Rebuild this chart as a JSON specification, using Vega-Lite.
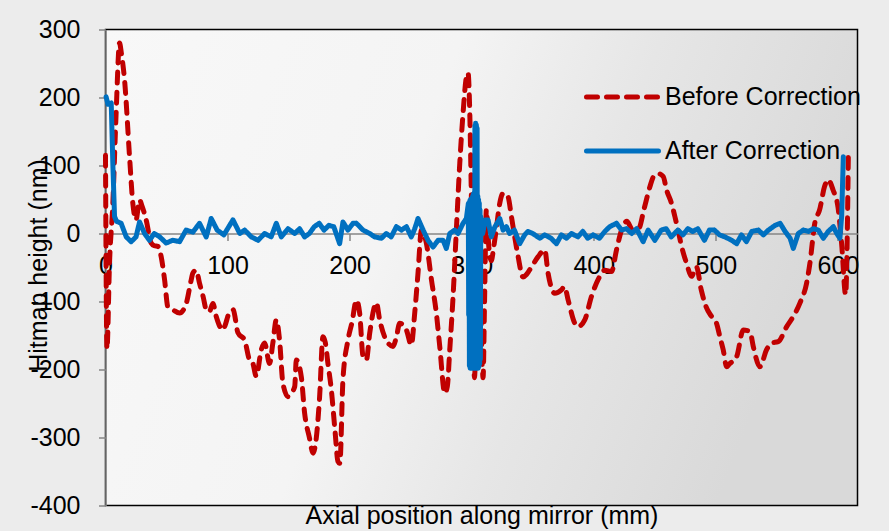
{
  "$schema": "https://vega.github.io/schema/vega-lite/v6.json",
  "width": 752,
  "height": 476,
  "autosize": {"type": "none"},
  "padding": {"left": 105.5, "top": 29.5, "right": 31.5, "bottom": 25.5},
  "background": "#ececec",
  "config": {
    "font": "Liberation Sans",
    "locale": {"number": {"decimal": ".", "thousands": ",", "grouping": [3], "currency": ["$", ""], "minus": "-"}},
    "view": {
      "stroke": "#000000",
      "strokeWidth": 1.5,
      "fill": {
        "gradient": "linear", "x1": 0, "y1": 0, "x2": 1, "y2": 0.25,
        "stops": [
          {"offset": 0, "color": "#f8f8f8"},
          {"offset": 0.45, "color": "#f4f4f4"},
          {"offset": 0.7, "color": "#e6e6e6"},
          {"offset": 1, "color": "#d9d9d9"}
        ]
      }
    },
    "legend": {
      "title": null,
      "orient": "none",
      "legendX": 534.5,
      "legendY": 55,
      "labelFontSize": 25,
      "labelColor": "#000000",
      "labelLimit": 400,
      "labelOffset": 0,
      "symbolType": "M-13.2,0H1.2",
      "symbolSize": 100,
      "symbolStrokeWidth": 5,
      "rowPadding": 28
    }
  },
  "data": {
    "values": [
      {"series": "Before Correction", "x": 0, "y": 115},
      {"series": "Before Correction", "x": 1.2, "y": -170},
      {"series": "Before Correction", "x": 3.3, "y": -43},
      {"series": "Before Correction", "x": 6, "y": 44},
      {"series": "Before Correction", "x": 8.7, "y": 177},
      {"series": "Before Correction", "x": 11.5, "y": 280},
      {"series": "Before Correction", "x": 13, "y": 265},
      {"series": "Before Correction", "x": 15.6, "y": 226},
      {"series": "Before Correction", "x": 19.7, "y": 113},
      {"series": "Before Correction", "x": 22.4, "y": 44},
      {"series": "Before Correction", "x": 25, "y": 20},
      {"series": "Before Correction", "x": 27.9, "y": 49},
      {"series": "Before Correction", "x": 30, "y": 40},
      {"series": "Before Correction", "x": 33.3, "y": 20},
      {"series": "Before Correction", "x": 37.4, "y": -14},
      {"series": "Before Correction", "x": 40, "y": -18},
      {"series": "Before Correction", "x": 42.9, "y": -19},
      {"series": "Before Correction", "x": 45.6, "y": -34},
      {"series": "Before Correction", "x": 48.4, "y": -68},
      {"series": "Before Correction", "x": 51.1, "y": -108},
      {"series": "Before Correction", "x": 55, "y": -112},
      {"series": "Before Correction", "x": 60.7, "y": -117},
      {"series": "Before Correction", "x": 66.1, "y": -103},
      {"series": "Before Correction", "x": 70, "y": -70},
      {"series": "Before Correction", "x": 71.6, "y": -58},
      {"series": "Before Correction", "x": 74.3, "y": -54},
      {"series": "Before Correction", "x": 77, "y": -73},
      {"series": "Before Correction", "x": 80, "y": -93},
      {"series": "Before Correction", "x": 82.5, "y": -112},
      {"series": "Before Correction", "x": 85, "y": -115},
      {"series": "Before Correction", "x": 88, "y": -103},
      {"series": "Before Correction", "x": 90.7, "y": -122},
      {"series": "Before Correction", "x": 96.2, "y": -142},
      {"series": "Before Correction", "x": 98, "y": -135},
      {"series": "Before Correction", "x": 101, "y": -118},
      {"series": "Before Correction", "x": 104.5, "y": -112},
      {"series": "Before Correction", "x": 108.5, "y": -146},
      {"series": "Before Correction", "x": 114, "y": -157},
      {"series": "Before Correction", "x": 118, "y": -186},
      {"series": "Before Correction", "x": 120.5, "y": -190},
      {"series": "Before Correction", "x": 123.5, "y": -210},
      {"series": "Before Correction", "x": 127.6, "y": -171},
      {"series": "Before Correction", "x": 130.3, "y": -161},
      {"series": "Before Correction", "x": 134.4, "y": -191},
      {"series": "Before Correction", "x": 137.1, "y": -161},
      {"series": "Before Correction", "x": 139.9, "y": -127},
      {"series": "Before Correction", "x": 142.6, "y": -157},
      {"series": "Before Correction", "x": 145.3, "y": -220},
      {"series": "Before Correction", "x": 149.5, "y": -240},
      {"series": "Before Correction", "x": 152, "y": -235},
      {"series": "Before Correction", "x": 155, "y": -225},
      {"series": "Before Correction", "x": 156.3, "y": -186},
      {"series": "Before Correction", "x": 160.4, "y": -211},
      {"series": "Before Correction", "x": 163.1, "y": -264},
      {"series": "Before Correction", "x": 167, "y": -300},
      {"series": "Before Correction", "x": 170, "y": -323},
      {"series": "Before Correction", "x": 172, "y": -310},
      {"series": "Before Correction", "x": 175.4, "y": -240},
      {"series": "Before Correction", "x": 178.1, "y": -152},
      {"series": "Before Correction", "x": 180, "y": -160},
      {"series": "Before Correction", "x": 182.2, "y": -191},
      {"series": "Before Correction", "x": 185, "y": -230},
      {"series": "Before Correction", "x": 188, "y": -290},
      {"series": "Before Correction", "x": 190.4, "y": -335},
      {"series": "Before Correction", "x": 192, "y": -338},
      {"series": "Before Correction", "x": 194.5, "y": -215},
      {"series": "Before Correction", "x": 198.6, "y": -157},
      {"series": "Before Correction", "x": 202, "y": -130},
      {"series": "Before Correction", "x": 205.5, "y": -98},
      {"series": "Before Correction", "x": 208.2, "y": -117},
      {"series": "Before Correction", "x": 211, "y": -181},
      {"series": "Before Correction", "x": 213.7, "y": -186},
      {"series": "Before Correction", "x": 216.4, "y": -147},
      {"series": "Before Correction", "x": 221.9, "y": -102},
      {"series": "Before Correction", "x": 224.6, "y": -127},
      {"series": "Before Correction", "x": 230, "y": -157},
      {"series": "Before Correction", "x": 235.5, "y": -166},
      {"series": "Before Correction", "x": 238.3, "y": -152},
      {"series": "Before Correction", "x": 241, "y": -132},
      {"series": "Before Correction", "x": 246.5, "y": -142},
      {"series": "Before Correction", "x": 250.5, "y": -164},
      {"series": "Before Correction", "x": 253.3, "y": -117},
      {"series": "Before Correction", "x": 256, "y": -58},
      {"series": "Before Correction", "x": 258.8, "y": 5},
      {"series": "Before Correction", "x": 262.8, "y": -14},
      {"series": "Before Correction", "x": 267, "y": -68},
      {"series": "Before Correction", "x": 271, "y": -117},
      {"series": "Before Correction", "x": 273.8, "y": -166},
      {"series": "Before Correction", "x": 277.9, "y": -235},
      {"series": "Before Correction", "x": 280, "y": -225},
      {"series": "Before Correction", "x": 282, "y": -171},
      {"series": "Before Correction", "x": 284.7, "y": -93},
      {"series": "Before Correction", "x": 287.4, "y": 5},
      {"series": "Before Correction", "x": 290.2, "y": 103},
      {"series": "Before Correction", "x": 292.9, "y": 177},
      {"series": "Before Correction", "x": 295.7, "y": 231},
      {"series": "Before Correction", "x": 297, "y": 236},
      {"series": "Before Correction", "x": 298.4, "y": 177},
      {"series": "Before Correction", "x": 299.7, "y": 54},
      {"series": "Before Correction", "x": 301, "y": -93},
      {"series": "Before Correction", "x": 302.2, "y": -212},
      {"series": "Before Correction", "x": 304, "y": -120},
      {"series": "Before Correction", "x": 306, "y": -20},
      {"series": "Before Correction", "x": 307.5, "y": -120},
      {"series": "Before Correction", "x": 309.3, "y": -212},
      {"series": "Before Correction", "x": 310.5, "y": -100},
      {"series": "Before Correction", "x": 312, "y": 35},
      {"series": "Before Correction", "x": 314, "y": -20},
      {"series": "Before Correction", "x": 316, "y": -40},
      {"series": "Before Correction", "x": 318, "y": -20},
      {"series": "Before Correction", "x": 320, "y": 5},
      {"series": "Before Correction", "x": 323, "y": 45},
      {"series": "Before Correction", "x": 325.7, "y": 59},
      {"series": "Before Correction", "x": 328, "y": 58},
      {"series": "Before Correction", "x": 329.8, "y": 54},
      {"series": "Before Correction", "x": 332.5, "y": 25},
      {"series": "Before Correction", "x": 335.2, "y": -5},
      {"series": "Before Correction", "x": 338, "y": -34},
      {"series": "Before Correction", "x": 342, "y": -64},
      {"series": "Before Correction", "x": 345, "y": -60},
      {"series": "Before Correction", "x": 349, "y": -49},
      {"series": "Before Correction", "x": 354.4, "y": -34},
      {"series": "Before Correction", "x": 359.8, "y": -24},
      {"series": "Before Correction", "x": 362.5, "y": -58},
      {"series": "Before Correction", "x": 368, "y": -88},
      {"series": "Before Correction", "x": 373.5, "y": -83},
      {"series": "Before Correction", "x": 376, "y": -78},
      {"series": "Before Correction", "x": 379, "y": -98},
      {"series": "Before Correction", "x": 384.4, "y": -132},
      {"series": "Before Correction", "x": 387, "y": -137},
      {"series": "Before Correction", "x": 392.6, "y": -127},
      {"series": "Before Correction", "x": 398, "y": -93},
      {"series": "Before Correction", "x": 403.5, "y": -68},
      {"series": "Before Correction", "x": 409, "y": -54},
      {"series": "Before Correction", "x": 414.5, "y": -56},
      {"series": "Before Correction", "x": 418.6, "y": -24},
      {"series": "Before Correction", "x": 422.7, "y": 5},
      {"series": "Before Correction", "x": 427, "y": 18},
      {"series": "Before Correction", "x": 432, "y": 5},
      {"series": "Before Correction", "x": 437, "y": 8},
      {"series": "Before Correction", "x": 441, "y": 35},
      {"series": "Before Correction", "x": 446, "y": 69},
      {"series": "Before Correction", "x": 449, "y": 84},
      {"series": "Before Correction", "x": 452.7, "y": 88},
      {"series": "Before Correction", "x": 456.8, "y": 84},
      {"series": "Before Correction", "x": 459.6, "y": 64},
      {"series": "Before Correction", "x": 463.7, "y": 44},
      {"series": "Before Correction", "x": 466.4, "y": 25},
      {"series": "Before Correction", "x": 469, "y": 5},
      {"series": "Before Correction", "x": 471.9, "y": -19},
      {"series": "Before Correction", "x": 476, "y": -44},
      {"series": "Before Correction", "x": 480, "y": -63},
      {"series": "Before Correction", "x": 484, "y": -49},
      {"series": "Before Correction", "x": 488, "y": -83},
      {"series": "Before Correction", "x": 492, "y": -108},
      {"series": "Before Correction", "x": 496.5, "y": -122},
      {"series": "Before Correction", "x": 500.5, "y": -132},
      {"series": "Before Correction", "x": 503.3, "y": -152},
      {"series": "Before Correction", "x": 506, "y": -171},
      {"series": "Before Correction", "x": 508.8, "y": -196},
      {"series": "Before Correction", "x": 511, "y": -192},
      {"series": "Before Correction", "x": 517, "y": -181},
      {"series": "Before Correction", "x": 522.4, "y": -142},
      {"series": "Before Correction", "x": 527.9, "y": -144},
      {"series": "Before Correction", "x": 530.6, "y": -166},
      {"series": "Before Correction", "x": 536, "y": -196},
      {"series": "Before Correction", "x": 541.5, "y": -171},
      {"series": "Before Correction", "x": 545.6, "y": -161},
      {"series": "Before Correction", "x": 551, "y": -159},
      {"series": "Before Correction", "x": 558, "y": -137},
      {"series": "Before Correction", "x": 563.4, "y": -122},
      {"series": "Before Correction", "x": 568.9, "y": -102},
      {"series": "Before Correction", "x": 574.3, "y": -73},
      {"series": "Before Correction", "x": 577, "y": -44},
      {"series": "Before Correction", "x": 581, "y": 15},
      {"series": "Before Correction", "x": 585, "y": 35},
      {"series": "Before Correction", "x": 589, "y": 69},
      {"series": "Before Correction", "x": 592, "y": 79},
      {"series": "Before Correction", "x": 596, "y": 64},
      {"series": "Before Correction", "x": 600, "y": 39},
      {"series": "Before Correction", "x": 603, "y": -15},
      {"series": "Before Correction", "x": 606.3, "y": -90},
      {"series": "Before Correction", "x": 608.5, "y": 113},

      {"series": "After Correction", "x": 0.5, "y": 201},
      {"series": "After Correction", "x": 2, "y": 190},
      {"series": "After Correction", "x": 4.7, "y": 192},
      {"series": "After Correction", "x": 6, "y": 103},
      {"series": "After Correction", "x": 7.4, "y": 25},
      {"series": "After Correction", "x": 9, "y": 18},
      {"series": "After Correction", "x": 12.8, "y": 15},
      {"series": "After Correction", "x": 17, "y": -5},
      {"series": "After Correction", "x": 21, "y": -12},
      {"series": "After Correction", "x": 25, "y": -5},
      {"series": "After Correction", "x": 27.9, "y": 17},
      {"series": "After Correction", "x": 32, "y": 0},
      {"series": "After Correction", "x": 36, "y": -10},
      {"series": "After Correction", "x": 40, "y": 0},
      {"series": "After Correction", "x": 44.4, "y": -5},
      {"series": "After Correction", "x": 49.7, "y": -14},
      {"series": "After Correction", "x": 55, "y": -10},
      {"series": "After Correction", "x": 60.7, "y": -12},
      {"series": "After Correction", "x": 66, "y": 5},
      {"series": "After Correction", "x": 71.6, "y": 2},
      {"series": "After Correction", "x": 77, "y": 15},
      {"series": "After Correction", "x": 82.5, "y": -5},
      {"series": "After Correction", "x": 86.6, "y": 22},
      {"series": "After Correction", "x": 91.5, "y": 5},
      {"series": "After Correction", "x": 97, "y": -2},
      {"series": "After Correction", "x": 101, "y": 10},
      {"series": "After Correction", "x": 104.4, "y": 20},
      {"series": "After Correction", "x": 110, "y": 0},
      {"series": "After Correction", "x": 114, "y": 5},
      {"series": "After Correction", "x": 119.5, "y": -5},
      {"series": "After Correction", "x": 125, "y": -10},
      {"series": "After Correction", "x": 130.3, "y": 0},
      {"series": "After Correction", "x": 135.7, "y": -5},
      {"series": "After Correction", "x": 139.9, "y": 15},
      {"series": "After Correction", "x": 144, "y": -5},
      {"series": "After Correction", "x": 149.5, "y": 7},
      {"series": "After Correction", "x": 155, "y": 0},
      {"series": "After Correction", "x": 159, "y": 7},
      {"series": "After Correction", "x": 163.1, "y": -5},
      {"series": "After Correction", "x": 167, "y": 0},
      {"series": "After Correction", "x": 171, "y": 10},
      {"series": "After Correction", "x": 175, "y": 15},
      {"series": "After Correction", "x": 179, "y": 5},
      {"series": "After Correction", "x": 183, "y": 12},
      {"series": "After Correction", "x": 187, "y": 10},
      {"series": "After Correction", "x": 191.8, "y": -15},
      {"series": "After Correction", "x": 194.5, "y": 17},
      {"series": "After Correction", "x": 198.6, "y": 5},
      {"series": "After Correction", "x": 202.7, "y": 15},
      {"series": "After Correction", "x": 205.5, "y": 15},
      {"series": "After Correction", "x": 211, "y": 5},
      {"series": "After Correction", "x": 216.4, "y": 0},
      {"series": "After Correction", "x": 220.5, "y": -5},
      {"series": "After Correction", "x": 226, "y": -7},
      {"series": "After Correction", "x": 230, "y": 0},
      {"series": "After Correction", "x": 234, "y": -5},
      {"series": "After Correction", "x": 238.3, "y": 10},
      {"series": "After Correction", "x": 242.4, "y": 5},
      {"series": "After Correction", "x": 246.5, "y": 10},
      {"series": "After Correction", "x": 250.5, "y": -5},
      {"series": "After Correction", "x": 253.3, "y": 7},
      {"series": "After Correction", "x": 256, "y": 22},
      {"series": "After Correction", "x": 260.2, "y": 5},
      {"series": "After Correction", "x": 264.2, "y": -10},
      {"series": "After Correction", "x": 268.3, "y": -20},
      {"series": "After Correction", "x": 272.4, "y": -10},
      {"series": "After Correction", "x": 276.5, "y": -10},
      {"series": "After Correction", "x": 279.2, "y": -22},
      {"series": "After Correction", "x": 282, "y": 0},
      {"series": "After Correction", "x": 286, "y": 5},
      {"series": "After Correction", "x": 288.8, "y": 0},
      {"series": "After Correction", "x": 292.9, "y": 15},
      {"series": "After Correction", "x": 295.6, "y": 22},
      {"series": "After Correction", "x": 297.2, "y": 44},
      {"series": "After Correction", "x": 297.5, "y": -120},
      {"series": "After Correction", "x": 297.8, "y": 45},
      {"series": "After Correction", "x": 298.1, "y": -195},
      {"series": "After Correction", "x": 298.4, "y": 48},
      {"series": "After Correction", "x": 298.7, "y": -198},
      {"series": "After Correction", "x": 299.0, "y": 50},
      {"series": "After Correction", "x": 299.3, "y": -198},
      {"series": "After Correction", "x": 299.6, "y": 50},
      {"series": "After Correction", "x": 299.9, "y": -198},
      {"series": "After Correction", "x": 300.2, "y": 52},
      {"series": "After Correction", "x": 300.5, "y": -198},
      {"series": "After Correction", "x": 300.8, "y": 55},
      {"series": "After Correction", "x": 301.1, "y": -198},
      {"series": "After Correction", "x": 301.4, "y": 58},
      {"series": "After Correction", "x": 301.7, "y": -198},
      {"series": "After Correction", "x": 302.0, "y": 60},
      {"series": "After Correction", "x": 302.3, "y": -198},
      {"series": "After Correction", "x": 302.6, "y": 158},
      {"series": "After Correction", "x": 302.9, "y": -198},
      {"series": "After Correction", "x": 303.2, "y": 162},
      {"series": "After Correction", "x": 303.5, "y": -198},
      {"series": "After Correction", "x": 303.8, "y": 160},
      {"series": "After Correction", "x": 304.1, "y": -198},
      {"series": "After Correction", "x": 304.4, "y": 155},
      {"series": "After Correction", "x": 304.7, "y": -198},
      {"series": "After Correction", "x": 305.0, "y": 55},
      {"series": "After Correction", "x": 305.3, "y": -198},
      {"series": "After Correction", "x": 305.6, "y": 50},
      {"series": "After Correction", "x": 305.9, "y": -196},
      {"series": "After Correction", "x": 306.2, "y": 45},
      {"series": "After Correction", "x": 306.5, "y": -192},
      {"series": "After Correction", "x": 306.8, "y": 35},
      {"series": "After Correction", "x": 307.1, "y": -185},
      {"series": "After Correction", "x": 307.4, "y": 25},
      {"series": "After Correction", "x": 309, "y": 0},
      {"series": "After Correction", "x": 311, "y": 20},
      {"series": "After Correction", "x": 313.4, "y": 20},
      {"series": "After Correction", "x": 316, "y": -5},
      {"series": "After Correction", "x": 319, "y": 10},
      {"series": "After Correction", "x": 323, "y": 22},
      {"series": "After Correction", "x": 325.7, "y": 5},
      {"series": "After Correction", "x": 328.4, "y": 10},
      {"series": "After Correction", "x": 331, "y": 0},
      {"series": "After Correction", "x": 335, "y": 5},
      {"series": "After Correction", "x": 339.3, "y": -15},
      {"series": "After Correction", "x": 343.4, "y": -2},
      {"series": "After Correction", "x": 346, "y": 3},
      {"series": "After Correction", "x": 350, "y": 0},
      {"series": "After Correction", "x": 355.7, "y": -7},
      {"series": "After Correction", "x": 359.8, "y": -2},
      {"series": "After Correction", "x": 365, "y": -7},
      {"series": "After Correction", "x": 369.4, "y": -15},
      {"series": "After Correction", "x": 373.5, "y": -2},
      {"series": "After Correction", "x": 377.6, "y": -7},
      {"series": "After Correction", "x": 381.7, "y": 0},
      {"series": "After Correction", "x": 387, "y": -5},
      {"series": "After Correction", "x": 391, "y": 3},
      {"series": "After Correction", "x": 395, "y": -7},
      {"series": "After Correction", "x": 399.4, "y": -2},
      {"series": "After Correction", "x": 404.6, "y": -7},
      {"series": "After Correction", "x": 409, "y": 3},
      {"series": "After Correction", "x": 413, "y": 10},
      {"series": "After Correction", "x": 418.6, "y": 15},
      {"series": "After Correction", "x": 422.7, "y": 5},
      {"series": "After Correction", "x": 426.8, "y": 7},
      {"series": "After Correction", "x": 431, "y": 0},
      {"series": "After Correction", "x": 435, "y": 7},
      {"series": "After Correction", "x": 440.4, "y": -12},
      {"series": "After Correction", "x": 444.5, "y": 5},
      {"series": "After Correction", "x": 450, "y": -10},
      {"series": "After Correction", "x": 455.2, "y": 5},
      {"series": "After Correction", "x": 459.3, "y": 7},
      {"series": "After Correction", "x": 463.4, "y": -5},
      {"series": "After Correction", "x": 468.9, "y": 5},
      {"series": "After Correction", "x": 473, "y": -2},
      {"series": "After Correction", "x": 477, "y": 7},
      {"series": "After Correction", "x": 481, "y": 3},
      {"series": "After Correction", "x": 485.2, "y": 7},
      {"series": "After Correction", "x": 490.6, "y": -10},
      {"series": "After Correction", "x": 494.7, "y": 5},
      {"series": "After Correction", "x": 498.8, "y": 5},
      {"series": "After Correction", "x": 503, "y": -2},
      {"series": "After Correction", "x": 507.4, "y": -5},
      {"series": "After Correction", "x": 513, "y": -10},
      {"series": "After Correction", "x": 517, "y": -15},
      {"series": "After Correction", "x": 521, "y": -2},
      {"series": "After Correction", "x": 525, "y": -12},
      {"series": "After Correction", "x": 529.4, "y": 3},
      {"series": "After Correction", "x": 534.8, "y": 5},
      {"series": "After Correction", "x": 538.9, "y": -2},
      {"series": "After Correction", "x": 543, "y": 5},
      {"series": "After Correction", "x": 548.5, "y": 12},
      {"series": "After Correction", "x": 552.6, "y": 15},
      {"series": "After Correction", "x": 556.7, "y": 3},
      {"series": "After Correction", "x": 560.8, "y": -7},
      {"series": "After Correction", "x": 563.4, "y": -22},
      {"series": "After Correction", "x": 567.5, "y": 0},
      {"series": "After Correction", "x": 571.6, "y": 5},
      {"series": "After Correction", "x": 575.7, "y": 3},
      {"series": "After Correction", "x": 579.8, "y": 7},
      {"series": "After Correction", "x": 583.9, "y": 5},
      {"series": "After Correction", "x": 588, "y": -7},
      {"series": "After Correction", "x": 592, "y": 3},
      {"series": "After Correction", "x": 596.2, "y": 10},
      {"series": "After Correction", "x": 599, "y": 0},
      {"series": "After Correction", "x": 601.6, "y": -7},
      {"series": "After Correction", "x": 603, "y": 25},
      {"series": "After Correction", "x": 604.4, "y": 113}
    ]
  },
  "encoding": {
    "x": {
      "field": "x", "type": "quantitative",
      "scale": {"domain": [0, 616], "nice": false, "zero": false},
      "axis": {
        "title": "Axial position along mirror (mm)",
        "values": [0, 100, 200, 300, 400, 500, 600],
        "format": "d",
        "offset": -272,
        "grid": false,
        "domainColor": "#868686", "domainWidth": 1.5,
        "tickColor": "#868686", "tickWidth": 1.5, "tickSize": 7,
        "labelFontSize": 25, "labelColor": "#000000", "labelPadding": 12.7,
        "labelFlush": false, "labelOverlap": false,
        "titleFontSize": 25, "titleFontWeight": "normal", "titleColor": "#000000",
        "titleY": 290, "titleBaseline": "alphabetic"
      }
    },
    "y": {
      "field": "y", "type": "quantitative",
      "scale": {"domain": [-400, 300], "nice": false, "zero": false},
      "axis": {
        "title": "Hitmap height (nm)",
        "values": [-400, -300, -200, -100, 0, 100, 200, 300],
        "format": "d",
        "grid": false,
        "domainColor": "#868686", "domainWidth": 1.5,
        "tickColor": "#868686", "tickWidth": 1.5, "tickSize": 7,
        "labelFontSize": 25, "labelColor": "#000000", "labelPadding": 18.5,
        "labelFlush": false, "labelOverlap": false,
        "titleFontSize": 25, "titleFontWeight": "normal", "titleColor": "#000000",
        "titleX": -67, "titleY": 235.5, "titleAngle": 270,
        "titleAlign": "center", "titleBaseline": "middle"
      }
    },
    "color": {
      "field": "series", "type": "nominal",
      "scale": {"domain": ["Before Correction", "After Correction"], "range": ["#C00000", "#0070C0"]},
      "legend": {"encode": {"symbols": {"update": {"strokeCap": {"value": "round"}}}}}
    },
    "strokeDash": {
      "field": "series", "type": "nominal",
      "scale": {"domain": ["Before Correction", "After Correction"], "range": [[11, 9], [1, 0]]}
    }
  },
  "layer": [
    {
      "transform": [{"filter": "datum.series === 'Before Correction'"}],
      "mark": {"type": "line", "strokeWidth": 5, "strokeCap": "round", "interpolate": "monotone"}
    },
    {
      "transform": [{"filter": "datum.series === 'After Correction'"}],
      "mark": {"type": "line", "strokeWidth": 5, "strokeCap": "round", "strokeJoin": "round", "interpolate": "linear"}
    }
  ]
}
